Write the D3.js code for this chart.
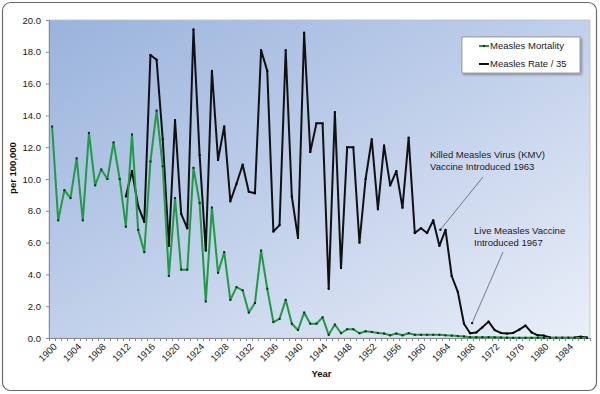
<!DOCTYPE html>
<html><head><meta charset="utf-8">
<script src="https://cdn.jsdelivr.net/npm/d3@7"></script>
<style>
html,body{margin:0;padding:0;background:#fff;}
svg{display:block;font-family:"Liberation Sans",Arial,sans-serif;}
</style></head>
<body><svg id="c" width="600" height="394"></svg>
<script>
const years = d3.range(1900, 1988);
const mortality = [
13.3,7.4,9.3,8.8,11.3,7.4,12.9,9.6,10.6,10.0,
12.3,10.0,7.0,12.8,6.8,5.4,11.1,14.3,10.8,3.9,
8.8,4.3,4.3,10.7,8.5,2.3,8.2,4.1,5.4,2.4,
3.2,3.0,1.6,2.2,5.5,3.1,1.0,1.2,2.4,0.9,
0.5,1.6,0.9,0.9,1.3,0.2,0.85,0.3,0.55,0.55,
0.3,0.42,0.38,0.32,0.28,0.17,0.28,0.17,0.3,0.2,
0.2,0.2,0.2,0.2,0.17,0.15,0.12,0.1,0.05,0.05,
0.05,0.05,0.04,0.03,0.02,0.01,0.01,0.01,0.01,0.01,
0.0,0.0,0.0,0.0,0.0,0.0,0.0,0.0];
const rate35 = [
null,null,null,null,null,null,null,null,null,null,
null,null,8.9,10.5,8.3,7.3,17.8,17.5,12.5,5.8,
13.7,7.8,6.9,19.4,11.5,5.5,16.8,11.2,13.3,8.6,
9.7,10.9,9.2,9.1,18.1,16.8,6.7,7.1,18.1,8.9,
6.3,19.2,11.7,13.5,13.5,3.1,14.2,4.4,12.0,12.0,
6.0,10.0,12.5,8.1,12.1,9.6,10.5,8.2,12.6,6.6,
6.9,6.6,7.4,5.8,6.8,3.9,2.9,0.9,0.3,0.35,
0.67,1.03,0.5,0.32,0.28,0.32,0.53,0.78,0.35,0.17,
0.15,0.03,0.02,0.02,0.02,0.03,0.08,0.03];
const yTicks = d3.range(0, 20.01, 2);
const xLabelYears = d3.range(1900, 1988, 4);
const seriesNames = ["Measles Mortality", "Measles Rate / 35"];
const note1 = ["Killed Measles Virus (KMV)", "Vaccine Introduced 1963"];
const note2 = ["Live Measles Vaccine", "Introduced 1967"];

const svg = d3.select("#c");
const L = 49, R = 590, T = 20, B = 338;
const x = d3.scaleBand().domain(years).range([L, R]);
const cx = yr => x(yr) + x.bandwidth() / 2;
const y = d3.scaleLinear().domain([0, 20]).range([B, T]);

const defs = svg.append("defs");
const g1 = defs.append("linearGradient").attr("id","bg").attr("x1",0).attr("y1",0).attr("x2",1).attr("y2",1);
g1.append("stop").attr("offset","0%").attr("stop-color","#9ab3dc");
g1.append("stop").attr("offset","55%").attr("stop-color","#c5d3ec");
g1.append("stop").attr("offset","100%").attr("stop-color","#eaeff8");
const sh = defs.append("filter").attr("id","sh").attr("x","-10%").attr("y","-10%").attr("width","130%").attr("height","140%");
sh.append("feDropShadow").attr("dx",1.5).attr("dy",1.5).attr("stdDeviation",1).attr("flood-color","#000").attr("flood-opacity",0.35);

// outer frame
svg.append("rect").attr("x",2.5).attr("y",2.5).attr("width",594).attr("height",388).attr("rx",8)
  .attr("fill","#fff").attr("stroke","#6b6b6b").attr("stroke-width",1.2);

// plot area
svg.append("rect").attr("x",L).attr("y",T).attr("width",R-L).attr("height",B-T)
  .attr("fill","url(#bg)").attr("stroke","#b8bfcc").attr("stroke-width",0.8);

// y axis
const yAxis = d3.axisLeft(y).tickValues(yTicks).tickFormat(d3.format(".1f")).tickSize(3).tickPadding(5);
const ya = svg.append("g").attr("transform",`translate(${L},0)`).call(yAxis);
ya.select(".domain").attr("stroke","#8a8a8a");
ya.selectAll(".tick line").attr("stroke","#8a8a8a");
ya.selectAll("text").attr("font-size","9.5px").attr("fill","#1a1a1a").attr("font-family","Liberation Sans, Arial, sans-serif");

// x axis: ticks at category boundaries
const xa = svg.append("g");
xa.append("line").attr("x1",L).attr("x2",R).attr("y1",B+0.5).attr("y2",B+0.5).attr("stroke","#8a8a8a");
xa.selectAll("line.tk").data(years.concat([null])).join("line").attr("class","tk")
  .attr("x1",(d,i)=>Math.round(L + i*x.step())+0.5).attr("x2",(d,i)=>Math.round(L + i*x.step())+0.5)
  .attr("y1",B).attr("y2",B+3).attr("stroke","#8a8a8a");
xa.selectAll("text").data(xLabelYears).join("text")
  .attr("transform",d=>`translate(${cx(d)+3},${B+7}) rotate(-45)`)
  .attr("text-anchor","end").attr("dy","0.35em")
  .attr("font-size","9.5px").attr("fill","#1a1a1a").text(d=>d);

// axis titles
svg.append("text").attr("x",(L+R)/2+2).attr("y",377).attr("text-anchor","middle")
  .attr("font-size","9.5px").attr("font-weight","bold").attr("fill","#111").text("Year");
svg.append("text").attr("transform","translate(16,168) rotate(-90)").attr("text-anchor","middle")
  .attr("font-size","9.5px").attr("font-weight","bold").attr("fill","#111").text("per 100,000");

// series
const mData = years.map((yr,i)=>({yr, v: mortality[i]}));
const rData = years.map((yr,i)=>({yr, v: rate35[i]}));
const line = d3.line().defined(d=>d.v!=null).x(d=>cx(d.yr)).y(d=>y(d.v));

svg.append("path").datum(rData).attr("d",line).attr("fill","none")
  .attr("stroke","#111").attr("stroke-width",2).attr("stroke-linejoin","round");
svg.append("g").selectAll("rect").data(rData.filter(d=>d.v!=null)).join("rect")
  .attr("x",d=>cx(d.yr)-1).attr("y",d=>y(d.v)-1).attr("width",2).attr("height",2).attr("fill","#000");

svg.append("path").datum(mData).attr("d",line).attr("fill","none")
  .attr("stroke","#1f9a45").attr("stroke-width",2).attr("stroke-linejoin","round");
svg.append("g").selectAll("rect").data(mData).join("rect")
  .attr("x",d=>cx(d.yr)-1).attr("y",d=>y(d.v)-1).attr("width",2).attr("height",2).attr("fill","#0d2a18");

// legend
const lg = svg.append("g");
lg.append("rect").attr("x",462).attr("y",37).attr("width",118).attr("height",36)
  .attr("fill","#fff").attr("stroke","#8a8a8a").attr("stroke-width",0.8).attr("filter","url(#sh)");
const lcol = ["#1f9a45","#111"];
seriesNames.forEach((n,i)=>{
  const yy = 46 + i*18;
  lg.append("line").attr("x1",479).attr("x2",489).attr("y1",yy).attr("y2",yy).attr("stroke",lcol[i]).attr("stroke-width",2);
  if(i===0) lg.append("rect").attr("x",483).attr("y",yy-1).attr("width",2).attr("height",2).attr("fill","#0d2a18");
  lg.append("text").attr("x",490).attr("y",yy).attr("dy","0.35em").attr("font-size","9.5px").attr("fill","#1a1a1a").text(n);
});

// annotations
function note(lines, tx, ty, x1, y1, x2, y2){
  const t = svg.append("text").attr("font-size","9.5px").attr("fill","#1a1a1a");
  lines.forEach((s,i)=>t.append("tspan").attr("x",tx).attr("y",ty+i*11.5).text(s));
  svg.append("line").attr("x1",x1).attr("y1",y1).attr("x2",x2).attr("y2",y2).attr("stroke","#333").attr("stroke-width",0.6);
  svg.append("circle").attr("cx",x2).attr("cy",y2).attr("r",1.2).attr("fill","#111");
}
note(note1, 430, 158, 483, 177, cx(1963)+1, y(7.0)+3);
note(note2, 474, 234, 503, 252, cx(1968)+2, y(1.0)+1);
</script></body></html>
